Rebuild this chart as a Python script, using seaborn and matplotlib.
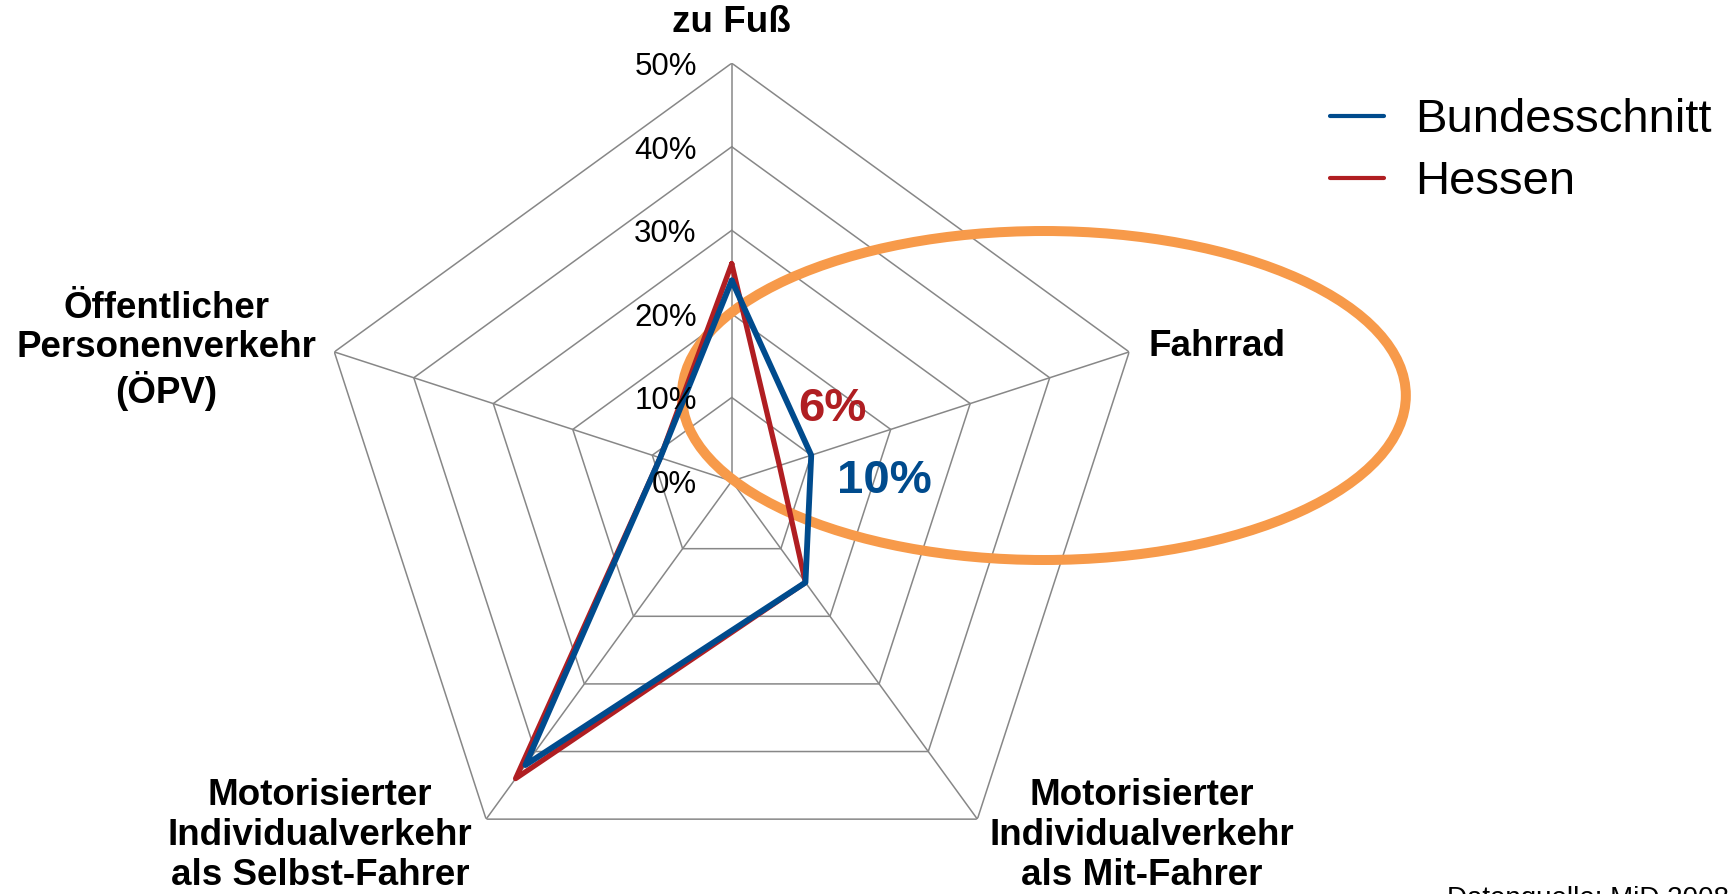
import numpy as np
import pandas as pd
import matplotlib
matplotlib.use("Agg")
import matplotlib.pyplot as plt
from matplotlib.patches import Ellipse
from matplotlib.lines import Line2D
import seaborn as sns

# Modal Split (Anteil der Wege) - Bundesschnitt vs. Hessen
categories = [
    "zu Fuß",
    "Fahrrad",
    "Motorisierter\nIndividualverkehr\nals Mit-Fahrer",
    "Motorisierter\nIndividualverkehr\nals Selbst-Fahrer",
    "Öffentlicher\nPersonenverkehr\n(ÖPV)",
]
bundesschnitt = [24, 10, 15, 42, 9]
hessen = [26, 6, 15, 44, 9]
ring_values = [0, 10, 20, 30, 40, 50]
ring_labels = ["0%", "10%", "20%", "30%", "40%", "50%"]

blue = "#004B8D"
red = "#B01E22"
orange = "#F79A4A"
grid_col = "#878787"

sns.set_style("white")
plt.rcParams["font.family"] = ["Liberation Sans", "DejaVu Sans"]
plt.rcParams["text.color"] = "black"

fig = plt.figure(figsize=(17.34, 8.94), dpi=100)
ax = fig.add_axes([0.181, -0.0056, 0.482, 0.935], projection="polar")
ax.set_theta_offset(np.pi / 2)
ax.set_theta_direction(-1)
ax.set_ylim(0, 50)
ax.grid(False)
ax.set_xticks([])
ax.set_yticks([])
ax.spines["polar"].set_visible(False)
ax.patch.set_alpha(0)

n = len(categories)
theta = np.linspace(0, 2 * np.pi, n, endpoint=False)
theta_closed = np.append(theta, 2 * np.pi)

# Netz (Fünfecke + Speichen)
for r in ring_values[1:]:
    ax.plot(theta_closed, [r] * (n + 1), color=grid_col, lw=1.1, zorder=1)
for t in theta:
    ax.plot([t, t], [0, ring_values[-1]], color=grid_col, lw=1.1, zorder=1)

# Beschriftung der Ringe
for r, lab in zip(ring_values, ring_labels):
    ax.annotate(lab, xy=(0, r), xytext=(-35, -4), textcoords="offset pixels",
                ha="right", va="center", fontsize=22.5, color="black", zorder=5)

# Kategorien
offsets = [(0, 41), (19, 5), (164, -16), (-166, -16), (-18, 1)]
aligns = ["center", "left", "center", "center", "right"]
for t, cat, off, ha in zip(theta, categories, offsets, aligns):
    ax.annotate(cat, xy=(t, ring_values[-1]), xytext=off, textcoords="offset pixels",
                ha=ha, va="center", multialignment="center", fontsize=26.5,
                fontweight="bold", linespacing=1.18, annotation_clip=False,
                color="black")

# Markierung Fahrrad
ell = Ellipse((0.602, 0.5576), 0.4175, 0.368, transform=fig.transFigure,
              fill=False, edgecolor=orange, lw=7.2, clip_on=False, zorder=2)
ax.add_patch(ell)

# Datenlinien
df = pd.DataFrame({
    "theta": np.concatenate([theta_closed, theta_closed]),
    "wert": hessen + hessen[:1] + bundesschnitt + bundesschnitt[:1],
    "reihe": ["Hessen"] * (n + 1) + ["Bundesschnitt"] * (n + 1),
})
sns.lineplot(data=df, x="theta", y="wert", hue="reihe", hue_order=["Hessen", "Bundesschnitt"],
             palette={"Hessen": red, "Bundesschnitt": blue}, sort=False, estimator=None,
             lw=4.2, ax=ax, legend=False, zorder=3)
ax.lines[-2].set_linewidth(3.8)
ax.set_xlabel("")
ax.set_ylabel("")
ax.set_xticks([])
ax.set_yticks([])

# Hervorgehobene Werte
ax.text(np.deg2rad(54.2), 14.8, "6%", color=red, fontsize=34, fontweight="bold",
        ha="center", va="center", zorder=6)
ax.text(np.deg2rad(90), 18.3, "10%", color=blue, fontsize=34, fontweight="bold",
        ha="center", va="center", zorder=6)

handles = [Line2D([], [], color=blue, lw=3, solid_capstyle="round"),
           Line2D([], [], color=red, lw=3, solid_capstyle="round")]
fig.legend(handles, ["Bundesschnitt", "Hessen"], loc="upper left",
           bbox_to_anchor=(0.767, 0.89), frameon=False, fontsize=34,
           handlelength=1.15, handletextpad=0.65, labelspacing=0.38,
           borderpad=0, borderaxespad=0)

fig.text(1447 / 1734, 0.009, "Datenquelle: MiD 2008", fontsize=20, color="black",
         ha="left", va="top")

fig.savefig("out.png", dpi=100)
